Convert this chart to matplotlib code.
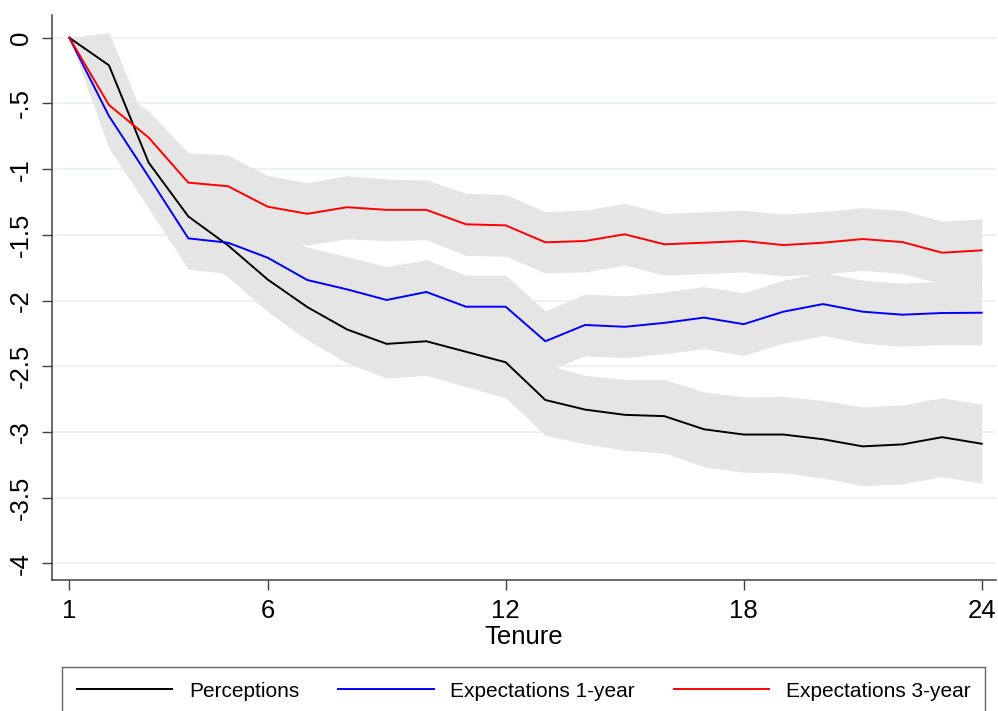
import numpy as np
import matplotlib
matplotlib.use("Agg")
import matplotlib.pyplot as plt

plt.rcParams['font.family'] = ['Liberation Sans', 'DejaVu Sans']

# Tenure (months)
tenure = list(range(1, 25))

# point estimates
perceptions = [0, -0.21, -0.95, -1.36, -1.58, -1.84, -2.05, -2.22, -2.33, -2.31, -2.39, -2.47,
               -2.757, -2.83, -2.87, -2.88, -2.98, -3.02, -3.02, -3.056, -3.11, -3.095, -3.04, -3.09]
exp_1y = [0, -0.596, -1.058, -1.527, -1.56, -1.674, -1.844, -1.915, -1.996, -1.935, -2.047, -2.047,
          -2.31, -2.186, -2.2, -2.17, -2.13, -2.18, -2.085, -2.027, -2.085, -2.108, -2.095, -2.093]
exp_3y = [0, -0.512, -0.76, -1.103, -1.13, -1.286, -1.34, -1.29, -1.31, -1.31, -1.42, -1.428,
          -1.557, -1.547, -1.496, -1.572, -1.56, -1.547, -1.578, -1.56, -1.532, -1.555, -1.636, -1.618]

# half width of the confidence bands
perc_hw = [0, 0.25, 0.25, 0.25, 0.24, 0.245, 0.25, 0.255, 0.26, 0.26, 0.265, 0.27,
           0.27, 0.26, 0.27, 0.28, 0.285, 0.287, 0.29, 0.295, 0.30, 0.30, 0.30, 0.30]
exp1_hw = [0, 0.245, 0.24, 0.236, 0.233, 0.24, 0.25, 0.25, 0.254, 0.245, 0.24, 0.24,
           0.23, 0.235, 0.235, 0.235, 0.236, 0.238, 0.24, 0.24, 0.24, 0.24, 0.24, 0.245]
exp3_hw = [0, 0.17, 0.2, 0.228, 0.237, 0.236, 0.237, 0.24, 0.235, 0.227, 0.236, 0.235,
           0.233, 0.235, 0.235, 0.235, 0.235, 0.235, 0.235, 0.238, 0.238, 0.24, 0.24, 0.24]

labels = ['Perceptions', 'Expectations 1-year', 'Expectations 3-year']
colors = ['black', '#0000ff', '#ff0000']

fig = plt.figure(figsize=(9.98, 7.11), dpi=100)
ax = fig.add_axes([52 / 998, 1 - 580 / 711, 944 / 998, 565 / 711])

x = np.array(tenure)
series = [(perceptions, perc_hw), (exp_1y, exp1_hw), (exp_3y, exp3_hw)]
for vals, hw in series:
    v = np.array(vals)
    h = np.array(hw)
    ax.fill_between(x, v - h, v + h, color='#e5e5e5', lw=0, zorder=1)

handles = []
for (vals, hw), c, lab in zip(series, colors, labels):
    ln, = ax.plot(x, vals, color=c, lw=1.4, zorder=3, label=lab)
    handles.append(ln)

ax.set_xlim(0.564, 24.36)
ax.set_ylim(-4.127, 0.173)
ax.set_xticks([1, 6, 12, 18, 24])
yt = np.arange(0, -4.01, -0.5)
ax.set_yticks(yt)
ax.set_yticklabels(['0', '-.5', '-1', '-1.5', '-2', '-2.5', '-3', '-3.5', '-4'], rotation=90, va='center')
ax.yaxis.grid(True, color='#e8f0f2', lw=1.2, zorder=0)
ax.set_axisbelow(True)

for s in ['top', 'right']:
    ax.spines[s].set_visible(False)
for s in ['left', 'bottom']:
    ax.spines[s].set_color('#404040')
    ax.spines[s].set_linewidth(1.1)
ax.tick_params(axis='both', length=7, width=1, color='#404040', labelsize=18.5, pad=7)

ax.set_xlabel('Tenure', fontsize=18.5, labelpad=1)

leg = fig.legend(handles=handles, loc='upper left', bbox_to_anchor=(62 / 998, 1 - 667 / 711),
                 ncol=3, fontsize=15, handlelength=4.6, handletextpad=0.8, columnspacing=1.85,
                 borderpad=0.7, frameon=True, fancybox=False, borderaxespad=0)
leg.get_frame().set_edgecolor('#404040')
leg.get_frame().set_linewidth(1.0)

fig.savefig('out.png', dpi=100)
